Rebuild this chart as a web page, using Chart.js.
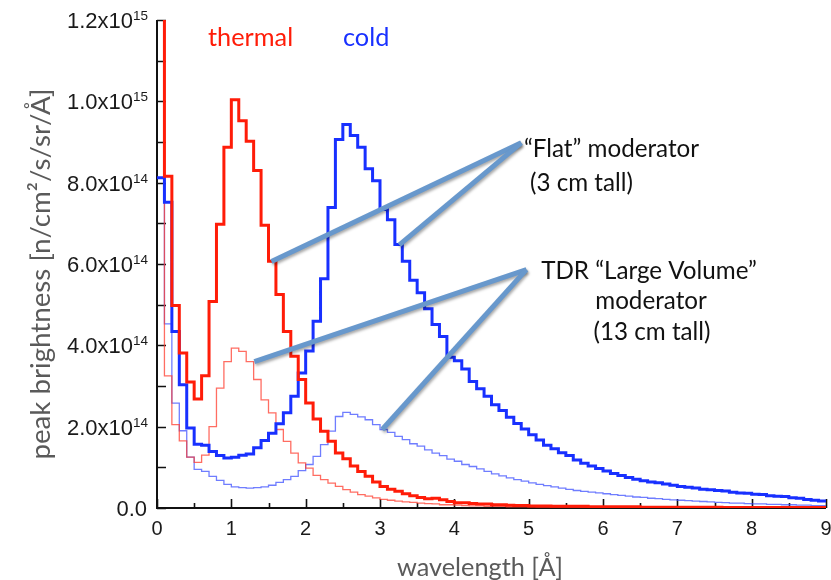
<!DOCTYPE html>
<html><head><meta charset="utf-8">
<script src="https://cdn.jsdelivr.net/npm/chart.js@4.4.1/dist/chart.umd.min.js"></script>
<style>html,body{margin:0;padding:0;background:#fff}</style>
</head><body>
<canvas id="c" width="831" height="580"></canvas>
<script>
// ---- data (peak brightness in units of 1e14 n/cm2/s/sr/Å, bins of 0.1 Å from 0 to 9 Å) ----
const binWidth = 0.1;
const thermalFlat = [12.5,8.16,4.98,3.81,3.10,2.68,3.25,5.08,6.98,8.87,
 10.04,9.52,9.02,8.30,6.95,6.07,5.25,4.34,3.73,3.16,
 2.58,2.19,1.89,1.64,1.35,1.21,1.03,0.90,0.78,0.64,
 0.53,0.46,0.41,0.35,0.30,0.26,0.23,0.24,0.20,0.16,
 0.13,0.13,0.11,0.10,0.10,0.08,0.08,0.07,0.06,0.06,
 0.05,0.05,0.05,0.04,0.04,0.04,0.04,0.04,0.03,0.03,
 0.03,0.03,0.03,0.03,0.03,0.02,0.02,0.02,0.02,0.02,
 0.02,0.02,0.02,0.02,0.02,0.02,0.015,0.015,0.015,0.015,
 0.015,0.015,0.012,0.012,0.012,0.012,0.01,0.01,0.01,0.01];
const coldFlat = [8.12,7.52,4.34,3.03,1.97,1.57,1.54,1.39,1.29,1.23,
 1.25,1.30,1.33,1.48,1.66,1.84,2.07,2.34,2.75,3.32,
 3.86,4.59,5.64,7.39,9.06,9.43,9.16,8.87,8.34,8.05,
 7.34,7.09,6.48,6.07,5.60,5.29,4.90,4.51,4.22,3.71,
 3.62,3.42,3.11,2.93,2.75,2.54,2.40,2.23,2.08,1.94,
 1.80,1.67,1.54,1.46,1.36,1.29,1.18,1.10,1.03,0.97,
 0.91,0.85,0.80,0.75,0.71,0.67,0.64,0.62,0.59,0.56,
 0.53,0.51,0.49,0.46,0.45,0.43,0.42,0.39,0.37,0.36,
 0.34,0.33,0.30,0.29,0.28,0.25,0.24,0.21,0.19,0.17];
const thermalTDR = [12.5,3.25,2.05,1.65,1.25,1.12,1.30,2.00,2.95,3.60,
 3.93,3.85,3.60,3.16,2.66,2.34,1.93,1.64,1.35,1.11,
 0.98,0.80,0.70,0.61,0.53,0.45,0.39,0.33,0.29,0.25,
 0.21,0.19,0.17,0.15,0.14,0.12,0.11,0.10,0.08,0.08,
 0.07,0.06,0.05,0.05,0.04,0.04,0.04,0.03,0.03,0.03,
 0.03,0.025,0.025,0.02,0.02,0.02,0.02,0.018,0.018,0.016,
 0.015,0.015,0.013,0.013,0.012,0.012,0.011,0.011,0.01,0.01,
 0.01,0.009,0.009,0.008,0.008,0.008,0.007,0.007,0.007,0.006,
 0.006,0.006,0.006,0.005,0.005,0.005,0.005,0.005,0.004,0.004];
const coldTDR = [8.12,4.53,2.58,1.90,1.25,0.95,0.90,0.78,0.68,0.58,
 0.52,0.50,0.49,0.50,0.52,0.56,0.63,0.70,0.78,0.92,
 1.07,1.27,1.56,1.89,2.25,2.35,2.30,2.24,2.17,2.05,
 1.93,1.86,1.76,1.68,1.58,1.52,1.43,1.35,1.29,1.20,
 1.15,1.07,1.02,0.96,0.90,0.84,0.79,0.74,0.70,0.66,
 0.62,0.58,0.55,0.52,0.49,0.46,0.43,0.41,0.39,0.37,
 0.35,0.33,0.31,0.29,0.27,0.26,0.24,0.23,0.21,0.20,
 0.19,0.18,0.17,0.16,0.15,0.14,0.13,0.12,0.12,0.11,
 0.10,0.10,0.09,0.09,0.08,0.08,0.07,0.07,0.06,0.06];

const xTickValues = [0,1,2,3,4,5,6,7,8,9];
const xTickLabels = ['0','1','2','3','4','5','6','7','8','9'];
const yTickValues = [0,2,4,6,8,10,12];
const yTickMantissa = ['0.0','2.0x10','4.0x10','6.0x10','8.0x10','1.0x10','1.2x10'];
const yTickExponent = ['','14','14','14','14','15','15'];

const seriesLabels = ['thermal','cold'];
const calloutTexts1 = ['\u201CFlat\u201D moderator','(3 cm tall)'];
const calloutTexts2 = ['TDR \u201CLarge Volume\u201D','moderator','(13 cm tall)'];
const xTitle = 'wavelength [\u00C5]';
const yTitle = 'peak brightness [n/cm\u00B2/s/sr/\u00C5]';
// callout lines in data coordinates [wavelength, brightness/1e14]
const calloutLines = [
  [[1.54,6.06],[4.90,8.98]],
  [[3.26,6.47],[4.90,8.98]],
  [[1.31,3.60],[4.97,5.86]],
  [[3.03,1.93],[4.97,5.86]]
];

function toPoints(arr){
  const pts = arr.map((v,i)=>({x: Math.round(i*binWidth*100)/100, y: v}));
  pts.push({x: Math.round(arr.length*binWidth*100)/100, y: arr[arr.length-1]});
  return pts;
}

const RED='rgb(255,28,8)', BLUE='rgb(24,48,255)';
const TEXTFONT='Lato, "Open Sans", sans-serif';
const TICKFONT='"Liberation Sans", Arial, sans-serif';

function fitSize(ctx, text, family, targetW){
  ctx.font = '100px ' + family;
  return 100 * targetW / ctx.measureText(text).width;
}

const decor = {
  id:'decor',
  beforeDatasetsDraw(chart){
    const {ctx, chartArea:a, scales:{x,y}} = chart;
    ctx.save();
    ctx.strokeStyle='#111'; ctx.lineWidth=2;
    ctx.beginPath();
    ctx.moveTo(a.left, a.top); ctx.lineTo(a.left, a.bottom); ctx.lineTo(a.right, a.bottom);
    ctx.stroke();
    ctx.lineWidth=1.6;
    ctx.beginPath();
    for(let v=0; v<=12; v++){ const py=Math.round(y.getPixelForValue(v))+0.5; ctx.moveTo(a.left, py); ctx.lineTo(a.left+9, py); }
    for(let k=0; k<=18; k++){ const px=Math.round(x.getPixelForValue(k*0.5))+0.5; const L = (k%2===0)?9:5; ctx.moveTo(px, a.bottom); ctx.lineTo(px, a.bottom-L); }
    ctx.stroke();
    // tick labels
    ctx.fillStyle='#1a1a1a';
    ctx.textBaseline='alphabetic';
    xTickValues.forEach((v,i)=>{
      ctx.font='20px '+TICKFONT; ctx.textAlign='center';
      ctx.fillText(xTickLabels[i], x.getPixelForValue(v), a.bottom+27);
    });
    yTickValues.forEach((v,i)=>{
      const py=y.getPixelForValue(v);
      if(yTickExponent[i]){
        ctx.font='13.5px '+TICKFONT; ctx.textAlign='right';
        ctx.fillText(yTickExponent[i], 148, py);
        const ew = ctx.measureText(yTickExponent[i]).width;
        ctx.font='22px '+TICKFONT;
        ctx.fillText(yTickMantissa[i], 148-ew, py+8);
      } else {
        ctx.font='22px '+TICKFONT; ctx.textAlign='right';
        ctx.fillText(yTickMantissa[i], 147, py+8);
      }
    });
    // axis titles
    ctx.fillStyle='#5a5a5a';
    ctx.textAlign='center';
    ctx.font=fitSize(ctx, xTitle, TEXTFONT, 166).toFixed(1)+'px '+TEXTFONT;
    ctx.fillText(xTitle, 480, 576);
    ctx.save();
    ctx.translate(50, 274); ctx.rotate(-Math.PI/2);
    ctx.font=fitSize(ctx, yTitle, TEXTFONT, 372).toFixed(1)+'px '+TEXTFONT;
    ctx.fillText(yTitle, 0, 0);
    ctx.restore();
    ctx.restore();
  },
  afterDatasetsDraw(chart){
    const {ctx, scales:{x,y}} = chart;
    ctx.save();
    ctx.strokeStyle='rgb(104,152,204)'; ctx.lineWidth=5; ctx.lineCap='butt';
    ctx.shadowColor='rgba(0,0,0,0.35)'; ctx.shadowBlur=3; ctx.shadowOffsetX=1; ctx.shadowOffsetY=2;
    calloutLines.forEach(([p,q])=>{
      ctx.beginPath();
      ctx.moveTo(x.getPixelForValue(p[0]), y.getPixelForValue(p[1]));
      ctx.lineTo(x.getPixelForValue(q[0]), y.getPixelForValue(q[1]));
      ctx.stroke();
    });
    ctx.restore();
    ctx.save();
    ctx.textBaseline='alphabetic';
    ctx.textAlign='left';
    const ls = fitSize(ctx, seriesLabels[0], TEXTFONT, 85);
    ctx.font=ls.toFixed(1)+'px '+TEXTFONT;
    ctx.fillStyle=RED; ctx.fillText(seriesLabels[0], 208, 46);
    ctx.fillStyle=BLUE; ctx.fillText(seriesLabels[1], 343, 46);
    ctx.fillStyle='#111';
    const cs = fitSize(ctx, calloutTexts2[0], TEXTFONT, 216);
    ctx.font=cs.toFixed(1)+'px '+TEXTFONT;
    ctx.fillText(calloutTexts1[0], 524, 157);
    ctx.fillText(calloutTexts1[1], 530, 191);
    ctx.textAlign='center';
    ctx.fillText(calloutTexts2[0], 649, 279);
    ctx.fillText(calloutTexts2[1], 651, 309);
    ctx.fillText(calloutTexts2[2], 652, 340);
    ctx.restore();
  }
};

new Chart(document.getElementById('c'), {
  type:'line',
  data:{datasets:[
    {label:'thermal flat', data:toPoints(thermalFlat), borderColor:RED, borderWidth:3, stepped:'before', pointRadius:0, fill:false},
    {label:'cold flat', data:toPoints(coldFlat), borderColor:BLUE, borderWidth:3, stepped:'before', pointRadius:0, fill:false},
    {label:'thermal TDR', data:toPoints(thermalTDR), borderColor:'rgba(255,60,45,0.75)', borderWidth:1.3, stepped:'before', pointRadius:0, fill:false},
    {label:'cold TDR', data:toPoints(coldTDR), borderColor:'rgba(50,70,255,0.7)', borderWidth:1.3, stepped:'before', pointRadius:0, fill:false}
  ]},
  options:{
    responsive:false, animation:false, devicePixelRatio:1,
    layout:{padding:{left:157, right:5, top:20, bottom:72}},
    plugins:{legend:{display:false}, tooltip:{enabled:false}},
    scales:{
      x:{type:'linear', min:0, max:9, display:false},
      y:{type:'linear', min:0, max:12, display:false}
    }
  },
  plugins:[decor]
});
</script>
</body></html>
